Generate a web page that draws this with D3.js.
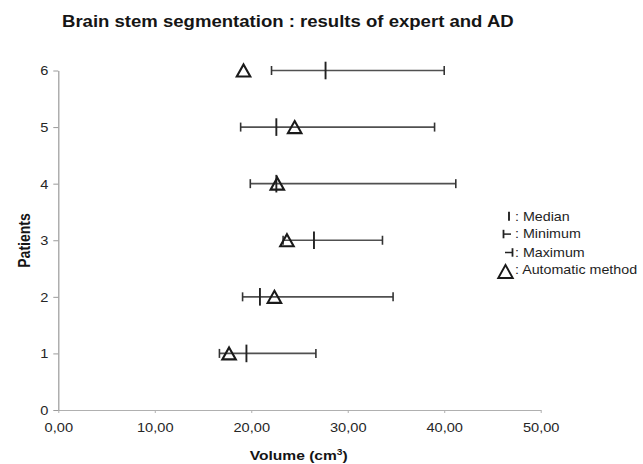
<!DOCTYPE html>
<html>
<head>
<meta charset="utf-8">
<script src="https://cdn.jsdelivr.net/npm/d3@7"></script>
<style>
  html, body { margin: 0; padding: 0; background: #fff; }
  svg { display: block; font-family: "Liberation Sans", Arial, sans-serif; }
</style>
</head>
<body>
<svg id="chart" width="643" height="464"></svg>
<script>
// ---- data ----
const patients   = [1, 2, 3, 4, 5, 6];
const minVals    = [16.7, 19.1, 23.3, 19.9, 18.9, 22.1];
const medianVals = [19.5, 20.9, 26.5, 22.6, 22.6, 27.7];
const maxVals    = [26.7, 34.7, 33.6, 41.2, 39.0, 40.0];
const autoVals   = [17.7, 22.4, 23.7, 22.7, 24.5, 19.2];
const xTicks     = [0, 10, 20, 30, 40, 50];
const yTicks     = [0, 1, 2, 3, 4, 5, 6];
const legendLabels = [": Median", ": Minimum", ": Maximum", ": Automatic method"];
const titleText  = "Brain stem segmentation : results of expert and AD";

const rows = patients.map((p, i) => ({
  p, min: minVals[i], med: medianVals[i], max: maxVals[i], auto: autoVals[i]
}));

const svg = d3.select("#chart");
const SX = 1.17; // horizontal stretch of the reference's text

const x = d3.scaleLinear().domain([0, 50]).range([58.3, 540.7]);
const y = d3.scaleLinear().domain([0, 6]).range([410, 70.5]);

// ---- title ----
svg.append("text")
  .attr("transform", `translate(62,26.7) scale(1.16,1)`)
  .attr("font-size", 16).attr("font-weight", "bold").attr("fill", "#151515")
  .text(titleText);

// ---- axes ----
const fmt = d => d3.format(".2f")(d).replace(".", ",");
const xAxis = svg.append("g").attr("transform", `translate(0,${y(0)})`)
  .call(d3.axisBottom(x).tickValues(xTicks).tickFormat(fmt).tickSize(3).tickSizeOuter(0));
xAxis.select(".domain").attr("stroke", "#b0b0b0").attr("stroke-width", 1.2);
xAxis.selectAll(".tick line").attr("stroke", "#b0b0b0");
xAxis.selectAll(".tick text")
  .attr("font-size", 12.5).attr("fill", "#262626").attr("font-family", "Liberation Sans, Arial, sans-serif")
  .attr("y", 22.5).attr("dy", 0)
  .attr("transform", `scale(${SX},1)`);

const yAxis = svg.append("g").attr("transform", `translate(${x(0)},0)`)
  .call(d3.axisLeft(y).tickValues(yTicks).tickFormat(d3.format("d")).tickSize(5).tickSizeOuter(0));
yAxis.select(".domain").attr("stroke", "#9a9a9a").attr("stroke-width", 1.2);
yAxis.selectAll(".tick line").attr("stroke", "#9a9a9a");
yAxis.selectAll(".tick text")
  .attr("font-size", 12.5).attr("fill", "#262626").attr("font-family", "Liberation Sans, Arial, sans-serif")
  .attr("x", -10 / SX).attr("dy", "0.35em")
  .attr("transform", `scale(${SX},1)`);

// axis titles
const xl = svg.append("text")
  .attr("transform", `translate(298.7,460) scale(1.2,1)`)
  .attr("text-anchor", "middle").attr("font-size", 13).attr("font-weight", "bold").attr("fill", "#151515");
xl.append("tspan").text("Volume (cm");
xl.append("tspan").attr("font-size", 8.5).attr("dy", -5).text("3");
xl.append("tspan").attr("dy", 5).text(")");

svg.append("text")
  .attr("transform", `translate(29.5,240.5) rotate(-90) scale(1,1.2)`)
  .attr("text-anchor", "middle").attr("font-size", 14).attr("font-weight", "bold").attr("fill", "#151515")
  .text("Patients");

// ---- marks ----
const marks = svg.append("g");
const rowG = marks.selectAll("g.row").data(rows).join("g").attr("class", "row");

// range line
rowG.append("line")
  .attr("x1", d => x(d.min)).attr("x2", d => x(d.max))
  .attr("y1", d => y(d.p)).attr("y2", d => y(d.p))
  .attr("stroke", "#505050").attr("stroke-width", 1.7);
// min cap
rowG.append("line")
  .attr("x1", d => x(d.min)).attr("x2", d => x(d.min))
  .attr("y1", d => y(d.p) - 4.5).attr("y2", d => y(d.p) + 4.5)
  .attr("stroke", "#333").attr("stroke-width", 1.6);
// max cap
rowG.append("line")
  .attr("x1", d => x(d.max)).attr("x2", d => x(d.max))
  .attr("y1", d => y(d.p) - 4.5).attr("y2", d => y(d.p) + 4.5)
  .attr("stroke", "#333").attr("stroke-width", 1.6);
// median
rowG.append("line")
  .attr("x1", d => x(d.med)).attr("x2", d => x(d.med))
  .attr("y1", d => y(d.p) - 8.8).attr("y2", d => y(d.p) + 8.8)
  .attr("stroke", "#222").attr("stroke-width", 1.9);

// triangle symbol (relative shape)
function tri(cx, cy, w, h) {
  const p = d3.path();
  p.moveTo(cx, cy - h / 2);
  p.lineTo(cx + w / 2, cy + h / 2);
  p.lineTo(cx - w / 2, cy + h / 2);
  p.closePath();
  return p.toString();
}
rowG.append("path")
  .attr("d", d => tri(x(d.auto), y(d.p), 13.5, 12))
  .attr("fill", "none").attr("stroke", "#1a1a1a").attr("stroke-width", 2.1)
  .attr("stroke-linejoin", "miter");

// ---- legend ----
const lg = svg.append("g");
const lx = 515, lys = [220.7, 238.3, 256.7, 274];
lg.selectAll("text").data(legendLabels).join("text")
  .attr("transform", (d, i) => `translate(${lx},${lys[i]}) scale(1.19,1)`)
  .attr("font-size", 12).attr("fill", "#1e1e1e")
  .text(d => d);
// median glyph
lg.append("line").attr("x1", 509).attr("x2", 509).attr("y1", lys[0] - 9).attr("y2", lys[0])
  .attr("stroke", "#222").attr("stroke-width", 1.9);
// minimum glyph
lg.append("line").attr("x1", 503.5).attr("x2", 503.5).attr("y1", lys[1] - 8.5).attr("y2", lys[1])
  .attr("stroke", "#222").attr("stroke-width", 1.8);
lg.append("line").attr("x1", 503.5).attr("x2", 511).attr("y1", lys[1] - 4.2).attr("y2", lys[1] - 4.2)
  .attr("stroke", "#222").attr("stroke-width", 1.5);
// maximum glyph
lg.append("line").attr("x1", 512.5).attr("x2", 512.5).attr("y1", lys[2] - 8.5).attr("y2", lys[2])
  .attr("stroke", "#222").attr("stroke-width", 1.8);
lg.append("line").attr("x1", 505).attr("x2", 512.5).attr("y1", lys[2] - 4.2).attr("y2", lys[2] - 4.2)
  .attr("stroke", "#222").attr("stroke-width", 1.5);
// triangle glyph
lg.append("path").attr("d", tri(505.5, 271.5, 14.5, 13))
  .attr("fill", "none").attr("stroke", "#1a1a1a").attr("stroke-width", 1.9);
</script>
</body>
</html>
